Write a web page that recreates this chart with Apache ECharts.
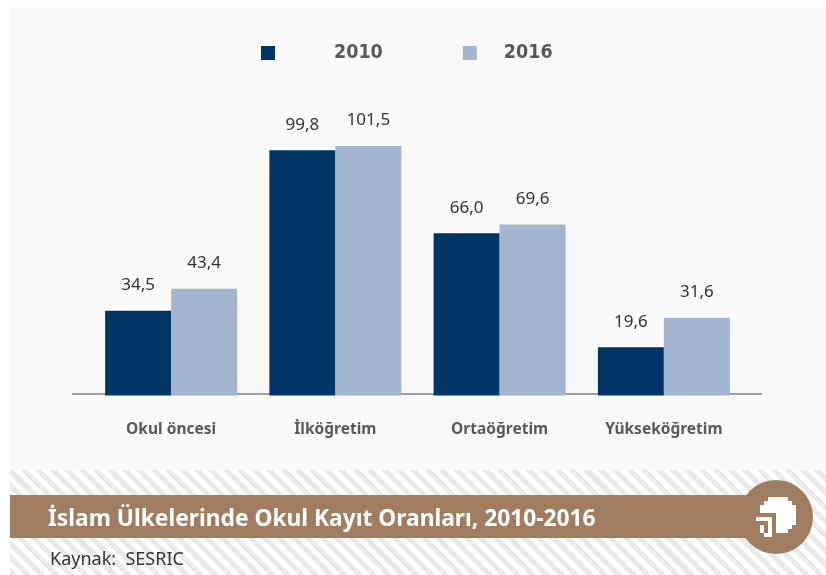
<!DOCTYPE html>
<html>
<head>
<meta charset="utf-8">
<script src="https://cdn.jsdelivr.net/npm/echarts@6/dist/echarts.min.js"></script>
<style>
  html, body { margin: 0; padding: 0; background: #fff; }
  #panel { position: absolute; left: 10px; top: 7px; width: 816px; height: 463px; background: #f9f9f9; }
  #hatch {
    position: absolute; left: 10px; top: 470px; width: 816px; height: 105px;
    background: repeating-linear-gradient(45deg, #e9e9e7 0, #e9e9e7 5px, #fff 5px, #fff 10.2px);
  }
  #chart { position: absolute; left: 0; top: 0; width: 826px; height: 575px; }
</style>
</head>
<body>
<div id="panel"></div>
<div id="hatch"></div>
<div id="chart"></div>
<script>
const categories = ['Okul öncesi', 'İlköğretim', 'Ortaöğretim', 'Yükseköğretim']
const values2010 = [34.5, 99.8, 66.0, 19.6]
const values2016 = [43.4, 101.5, 69.6, 31.6]

const brown = '#a07d60'

// logo, one row per 4px cell
const logoRows = [
  '...#####..',
  '..#######.',
  '.#########',
  '.#########',
  '.....#####',
  '####.#####',
  '...#.#####',
  '.#.#.####.',
  '.#.#.###..',
  '..##......'
]

function logoCells() {
  const cells = []
  logoRows.forEach((row, r) => {
    row.split('').forEach((c, i) => {
      if (c === '#') {
        cells.push({
          type: 'rect',
          z: 5,
          shape: { x: 756 + i * 4, y: 497 + r * 4, width: 4, height: 4 },
          style: { fill: '#fff' }
        })
      }
    })
  })
  return cells
}

function barLabel(v) {
  return v.value.toFixed(1).replace('.', ',')
}

function barSeries(name, data, color) {
  return {
    name: name,
    type: 'bar',
    data: data,
    barWidth: 66,
    barGap: 0,
    itemStyle: { color: color },
    label: {
      show: true,
      position: 'top',
      distance: 17,
      formatter: barLabel,
      fontFamily: 'Noto Sans',
      fontSize: 17,
      color: '#333'
    }
  }
}

const chart = echarts.init(document.getElementById('chart'))
chart.setOption({
  animation: false,
  backgroundColor: 'transparent',
  legend: {
    left: 261,
    top: 43,
    padding: 0,
    itemWidth: 14,
    itemHeight: 14,
    itemGap: 80,
    icon: 'rect',
    data: [
      { name: '2010', textStyle: { padding: [0, 0, 0, 54] } },
      { name: '2016', textStyle: { padding: [0, 0, 0, 22] } }
    ],
    textStyle: {
      fontFamily: 'DejaVu Sans Condensed',
      fontWeight: 'bold',
      fontSize: 19.5,
      color: '#595959'
    }
  },
  grid: { left: 89, right: 80, top: 100.5, bottom: 179.5 },
  xAxis: {
    type: 'category',
    data: categories,
    axisLine: { show: false },
    axisTick: { show: false },
    axisLabel: {
      margin: 26,
      fontFamily: 'Noto Sans',
      fontWeight: 'bold',
      fontSize: 15.5,
      color: '#595959'
    }
  },
  yAxis: { type: 'value', min: 0, max: 120, show: false },
  series: [
    barSeries('2010', values2010, '#003566'),
    barSeries('2016', values2016, '#a3b4cf')
  ],
  graphic: [
    { type: 'rect', z: -1, shape: { x: 72, y: 393, width: 690, height: 2 }, style: { fill: '#a09fa0' } },
    { type: 'rect', z: 3, shape: { x: 10, y: 495, width: 770, height: 43 }, style: { fill: brown } },
    { type: 'circle', z: 3, shape: { cx: 776, cy: 517, r: 37 }, style: { fill: brown } },
    {
      type: 'text', z: 5, left: 48, top: 508,
      style: { text: 'İslam Ülkelerinde Okul Kayıt Oranları, 2010-2016', fill: '#fff', font: 'bold 22.75px "Noto Sans"' }
    },
    {
      type: 'text', z: 5, left: 50, top: 551,
      style: { text: 'Kaynak:  SESRIC', fill: '#333', font: '18px "Noto Sans"' }
    }
  ].concat(logoCells())
})

window.addEventListener('resize', () => chart.resize())
</script>
</body>
</html>
